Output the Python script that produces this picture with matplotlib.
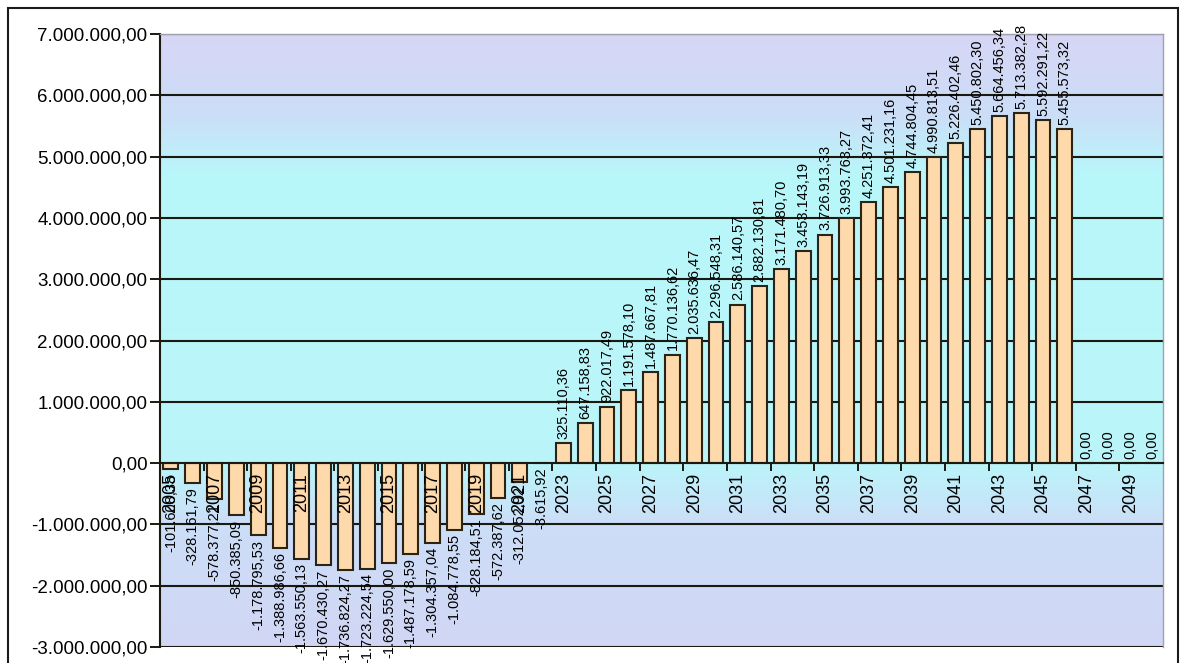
import numpy as np
import matplotlib
matplotlib.use("Agg")
import matplotlib.pyplot as plt
from matplotlib.colors import LinearSegmentedColormap
from matplotlib.patches import Rectangle
from matplotlib.ticker import FuncFormatter

plt.rcParams['font.family'] = ['Liberation Sans', 'DejaVu Sans']

# Yearly balance, 2005-2050
years = list(range(2005, 2051))
balance = [
    -101608.38, -328161.79, -578377.21, -850385.09, -1178795.53,
    -1388986.66, -1563550.13, -1670430.27, -1736824.27, -1723224.54,
    -1629550.00, -1487178.59, -1304357.04, -1084778.55, -828184.51,
    -572387.62, -312052.92, -3615.92, 325110.36, 647158.83,
    922017.49, 1191578.10, 1487667.81, 1770136.62, 2035636.47,
    2296548.31, 2586140.57, 2882130.81, 3171480.70, 3453143.19,
    3726913.33, 3993763.27, 4251372.41, 4501231.16, 4744804.45,
    4990813.51, 5226402.46, 5450802.30, 5664456.34, 5713382.28,
    5592291.22, 5455573.32, 0.00, 0.00, 0.00, 0.00,
]
y_ticks = [-3e6, -2e6, -1e6, 0, 1e6, 2e6, 3e6, 4e6, 5e6, 6e6, 7e6]
year_labels = [str(y) for y in years[::2]]


def br_format(v):
    s = f"{v:,.2f}"
    return s.replace(",", "X").replace(".", ",").replace("X", ".")


fig = plt.figure(figsize=(11.82, 6.63), dpi=100)
ax = fig.add_axes([160 / 1182, 1 - 647 / 663, 1003 / 1182, 613 / 663])

n = len(years)
x = np.arange(n)
ax.set_xlim(-0.5, n - 0.5)
ax.set_ylim(y_ticks[0], y_ticks[-1])

# vertical gradient background: lavender at the edges, cyan in the middle
stops = [
    (0.00, (0.82, 0.84, 0.96)),
    (0.20, (0.80, 0.87, 0.97)),
    (0.30, (0.73, 0.96, 0.98)),
    (0.77, (0.72, 0.97, 0.98)),
    (0.87, (0.80, 0.87, 0.97)),
    (1.00, (0.84, 0.84, 0.96)),
]
cmap = LinearSegmentedColormap.from_list("bg", stops)
grad = np.linspace(0, 1, 256).reshape(-1, 1)
ax.imshow(grad, cmap=cmap, aspect="auto", origin="lower",
          extent=(-0.5, n - 0.5, y_ticks[0], y_ticks[-1]), zorder=0)

# horizontal grid lines behind the bars
for t in y_ticks:
    if t != 0:
        ax.axhline(t, color="#1a1a10", lw=1.5, zorder=0.8)

ax.bar(x, balance, width=0.68, color="#fdd9ab", edgecolor="#2a2418",
       linewidth=1.5, zorder=1.5)

for xi, v in zip(x, balance):
    if v >= 0:
        ax.annotate(br_format(v), (xi, v), xytext=(0, 3), textcoords="offset points",
                    rotation=90, ha="center", va="bottom", fontsize=10.5,
                    zorder=5, annotation_clip=False)
    else:
        ax.annotate(br_format(v), (xi, v), xytext=(0, -3), textcoords="offset points",
                    rotation=90, ha="center", va="top", fontsize=10.5,
                    zorder=5, annotation_clip=False)

# axes styling
for side in ("top", "right"):
    ax.spines[side].set_color("#a0a0b0")
    ax.spines[side].set_linewidth(1.0)
ax.spines["left"].set_color("#1a1a10")
ax.spines["left"].set_linewidth(1.5)
ax.spines["bottom"].set_position(("data", 0))
ax.spines["bottom"].set_color("#1a1a10")
ax.spines["bottom"].set_linewidth(1.5)

ax.set_yticks(y_ticks)
ax.yaxis.set_major_formatter(FuncFormatter(lambda v, p: br_format(v)))
ax.tick_params(axis="y", direction="out", length=7, width=1.4,
               labelsize=13.5, pad=2, color="#1a1a10")

ax.set_xticks(np.arange(-0.5, n - 0.5, 2))
ax.set_xticklabels([])
ax.set_xticks(x[::2], labels=year_labels, minor=True)
ax.tick_params(axis="x", which="major", direction="out", length=6, width=1.4,
               color="#1a1a10")
ax.tick_params(axis="x", which="minor", length=0, pad=7, labelsize=13,
               labelrotation=90)
for lbl in ax.get_xticklabels(minor=True):
    lbl.set_verticalalignment("top")

# outer chart frame
fig.patches.append(Rectangle((8 / 1182, -0.02), 1170 / 1182, 1 - 8 / 663 + 0.02,
                             transform=fig.transFigure, fill=False,
                             edgecolor="#1a1a1a", linewidth=1.5))

fig.savefig("out.png", dpi=100, facecolor="white")
